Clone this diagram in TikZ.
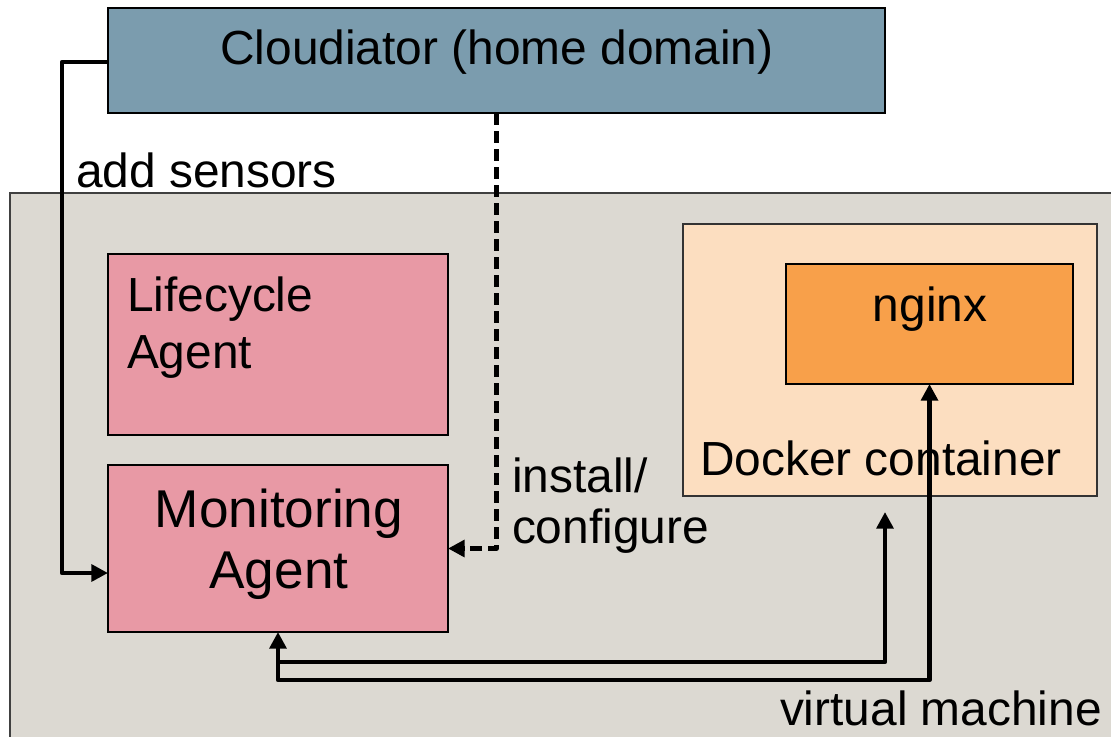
\documentclass[tikz,border=0pt]{standalone}
\usepackage{fontspec}
\setmainfont{Liberation Sans}
\usetikzlibrary{arrows.meta}
\definecolor{cloudblue}{HTML}{7B9CAE}
\definecolor{vmgray}{HTML}{DCD9D2}
\definecolor{agentpink}{HTML}{E899A5}
\definecolor{dockerpeach}{HTML}{FCDEC0}
\definecolor{nginxorange}{HTML}{F8A04A}
\begin{document}
\begin{tikzpicture}[x=0.75pt,y=-0.75pt,
  box/.style={draw=black, line width=1.1pt, inner sep=0pt, outer sep=0pt, anchor=north west},
  lbl/.style={inner sep=0pt, outer sep=0pt, font=\fontsize{35.9pt}{42pt}\selectfont},
  biglbl/.style={inner sep=0pt, outer sep=0pt, font=\fontsize{39.9pt}{46pt}\selectfont},
  conn/.style={line width=3.4pt, line join=round, -{Triangle[length=12.5pt,width=12.5pt]}},
]
\clip (0,0) rectangle (1111,736);
\fill[white] (0,0) rectangle (1111,736);
% virtual machine background
\node[box, draw=black!75, fill=vmgray, minimum width=1130*0.75pt, minimum height=570*0.75pt] (vm) at (10,193) {};
% boxes
\node[box, fill=cloudblue, minimum width=777*0.75pt, minimum height=105*0.75pt] (cloud) at (108,8) {};
\node[box, fill=agentpink, minimum width=340*0.75pt, minimum height=181*0.75pt] (lc) at (108,254) {};
\node[box, fill=agentpink, minimum width=340*0.75pt, minimum height=167*0.75pt] (mon) at (108,465) {};
\node[box, draw=black!80, fill=dockerpeach, minimum width=414*0.75pt, minimum height=272*0.75pt] (docker) at (683,224) {};
\node[box, fill=nginxorange, minimum width=287*0.75pt, minimum height=120*0.75pt] (nginx) at (786,264) {};
% texts
\node[lbl, anchor=base] (cloudt) at (497,64) {Cloudiator (home domain)};
\node[lbl, anchor=base west] (addt) at (76,187) {add sensors};
\node[lbl, anchor=base west] (lct1) at (127,311) {Lifecycle};
\node[lbl, anchor=base west] (lct2) at (127,368) {Agent};
\node[biglbl, anchor=base] (mont1) at (279,527) {Monitoring};
\node[biglbl, anchor=base] (mont2) at (279,588) {Agent};
\node[lbl, anchor=base west] (inst1) at (512,492) {install/};
\node[lbl, anchor=base west] (inst2) at (512,543) {configure};
\node[lbl, anchor=base] (nginxt) at (930,321) {nginx};
\node[lbl, anchor=base west] (dockt) at (700,475) {Docker container};
\node[lbl, anchor=base west] (vmt) at (780,725) {virtual machine};
% connectors
\draw[conn] (cloud.west |- 0,62) -- (62,62) -- (62,573) -- (mon.west |- 0,573);
\draw[conn, dash pattern=on 9pt off 4.5pt] (cloud.south) |- (mon.east);
\draw[conn, {Triangle[length=12.5pt,width=12.5pt]}-{Triangle[length=12.5pt,width=12.5pt]}] (mon.south) -- (mon.south |- 0,680) -- (nginx.south |- 0,680) -- (nginx.south);
\coordinate (dockin) at (885,512);
\draw[conn] (mon.south |- 0,662) -- (dockin |- 0,662) -- (dockin);
\end{tikzpicture}
\end{document}
